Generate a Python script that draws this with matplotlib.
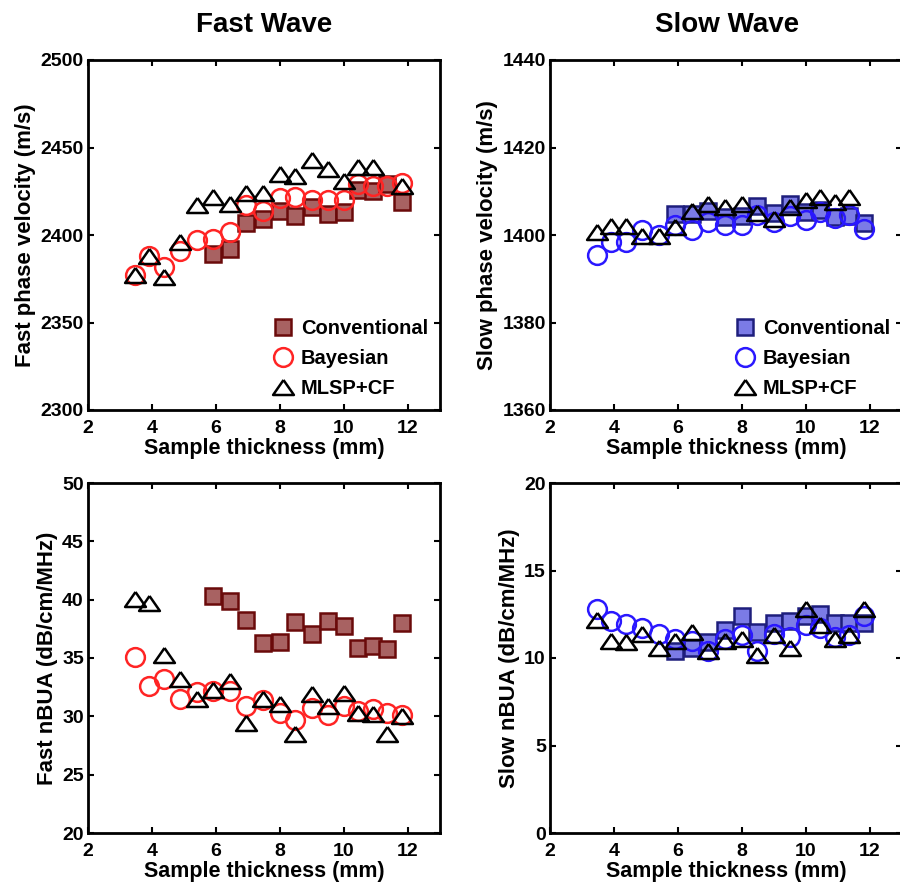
import numpy as np
import matplotlib
matplotlib.use('Agg')
import matplotlib.pyplot as plt

plt.rcParams['font.family'] = ['Liberation Sans', 'DejaVu Sans']
plt.rcParams['font.weight'] = 'bold'

# sample thickness (mm)
thick = [3.47, 3.92, 4.39, 4.88, 5.4, 5.92, 6.43, 6.94, 7.47, 7.99, 8.46,
         9.0, 9.5, 10.0, 10.43, 10.92, 11.35, 11.8]
thick_conv = thick[5:]

nan = np.nan

# fast phase velocity (m/s)
fast_vel_conv = [2389, 2392, 2407, 2409, 2414, 2411, 2416, 2412, 2413, 2426, 2425, 2429, 2419]
fast_vel_bayes = [2377, 2388, 2382, 2391, 2397, 2398, 2402, 2417, 2414, 2421, 2422, 2420,
                  2420, 2420, 2429, 2428, 2428, 2430]
fast_vel_mlsp = [2377, 2388, 2376, 2396, 2417, 2422, 2418, 2424, 2424, 2435, 2434, 2443,
                 2438, 2431, 2439, 2439, nan, 2428]

# slow phase velocity (m/s)
slow_vel_conv = [1404.8, 1404.8, 1405.6, 1404.2, 1404.4, 1406.7, 1405.0, 1407.1, 1405.2,
                 1405.7, 1404.2, 1404.4, 1402.8]
slow_vel_bayes = [1395.4, 1398.5, 1398.5, 1401.1, 1400.0, 1402.3, 1401.1, 1403.0, 1402.3,
                  1402.3, 1404.6, 1403.0, 1404.4, 1403.4, 1405.2, 1403.8, 1404.6, 1401.4]
slow_vel_mlsp = [1400.6, 1402.0, 1402.0, 1399.8, 1399.8, 1401.9, 1405.5, 1407.0, 1406.5,
                 1407.2, 1405.0, 1403.6, 1406.5, 1408.0, 1408.8, 1407.6, 1408.8, nan]

# fast nBUA (dB/cm/MHz)
fast_bua_conv = [40.3, 39.9, 38.3, 36.3, 36.4, 38.1, 37.1, 38.2, 37.7, 35.9, 36.0, 35.8, 38.0]
fast_bua_bayes = [35.1, 32.6, 33.2, 31.5, 32.1, 32.2, 32.2, 30.9, 31.4, 30.3, 29.7, 30.7,
                  30.1, 30.9, 30.5, 30.6, 30.3, 30.1]
fast_bua_mlsp = [40.1, 39.7, 35.3, 33.2, 31.5, 32.3, 33.0, 29.4, 31.5, 31.1, 28.5, 31.9,
                 30.9, 32.0, 30.3, 30.2, 28.5, 30.0]

# slow nBUA (dB/cm/MHz)
slow_bua_conv = [10.4, 10.6, 10.9, 11.6, 12.4, 11.5, 12.0, 12.1, 12.4, 12.5, 12.0, 12.0, 12.0]
slow_bua_bayes = [12.8, 12.1, 11.95, 11.7, 11.4, 11.1, 11.0, 10.4, 11.1, 11.3, 10.4, 11.4,
                  11.2, 11.9, 11.7, 11.2, 11.3, 12.4]
slow_bua_mlsp = [12.2, 11.0, 10.9, 11.4, 10.6, 11.0, 11.5, 10.4, 11.0, 11.1, 10.15, 11.3,
                 10.6, 12.8, 11.9, 11.1, 11.3, 12.8]

fig = plt.figure(figsize=(9, 8.86), dpi=100)

W, H = 900.0, 886.0
def box(x0, y0, x1, y1):
    return [x0 / W, 1 - y1 / H, (x1 - x0) / W, (y1 - y0) / H]

ax_fv = fig.add_axes(box(88, 60, 440, 410))
ax_sv = fig.add_axes(box(550, 60, 902, 410))
ax_fb = fig.add_axes(box(88, 483, 440, 833))
ax_sb = fig.add_axes(box(550, 483, 902, 833))

# wide matlab-like triangle
tri_path = [(0, 0.72), (-1, -0.72), (1, -0.72), (0, 0.72)]

fast_sq = dict(marker='s', ls='none', ms=11.5, mfc='#a86262', mec='#6a0a0a', mew=1.8)
fast_ci = dict(marker='o', ls='none', ms=13.5, mfc='none', mec='#ff2424', mew=1.8)
slow_sq = dict(marker='s', ls='none', ms=11.5, mfc='#7b7be6', mec='#1e1e7c', mew=1.8)
slow_ci = dict(marker='o', ls='none', ms=13.5, mfc='none', mec='#2a18ff', mew=1.8)
tri = dict(marker=tri_path, ls='none', ms=15, mfc='none', mec='black', mew=1.8)

def draw(ax, conv, bayes, mlsp, sq, ci, ylim, yticks, ylabel, legend):
    ax.plot(thick_conv, conv, label='Conventional', **sq)
    ax.plot(thick, bayes, label='Bayesian', **ci)
    ax.plot(thick, mlsp, label='MLSP+CF', **tri)
    ax.set_xlim(2, 13)
    ax.set_ylim(*ylim)
    ax.set_xticks([2, 4, 6, 8, 10, 12])
    ax.set_yticks(yticks)
    ax.tick_params(direction='in', top=True, right=True, length=4, width=1.5,
                   labelsize=14)
    ax.tick_params(axis='x', pad=7)
    ax.tick_params(axis='y', pad=3)
    for s in ax.spines.values():
        s.set_linewidth(2)
    ax.set_xlabel('Sample thickness (mm)', fontsize=15.5, fontweight='bold', labelpad=1)
    ax.set_ylabel(ylabel, fontsize=16, fontweight='bold', labelpad=3)
    if legend:
        ax.legend(loc='lower right', frameon=False, handletextpad=0.3,
                  borderaxespad=0.2, labelspacing=0.55, handlelength=1.2,
                  prop={'weight': 'bold', 'size': 14.5})

draw(ax_fv, fast_vel_conv, fast_vel_bayes, fast_vel_mlsp, fast_sq, fast_ci,
     (2300, 2500), [2300, 2350, 2400, 2450, 2500], 'Fast phase velocity (m/s)', True)
draw(ax_sv, slow_vel_conv, slow_vel_bayes, slow_vel_mlsp, slow_sq, slow_ci,
     (1360, 1440), [1360, 1380, 1400, 1420, 1440], 'Slow phase velocity (m/s)', True)
draw(ax_fb, fast_bua_conv, fast_bua_bayes, fast_bua_mlsp, fast_sq, fast_ci,
     (20, 50), [20, 25, 30, 35, 40, 45, 50], 'Fast nBUA (dB/cm/MHz)', False)
draw(ax_sb, slow_bua_conv, slow_bua_bayes, slow_bua_mlsp, slow_sq, slow_ci,
     (0, 20), [0, 5, 10, 15, 20], 'Slow nBUA (dB/cm/MHz)', False)

ax_fv.set_title('Fast Wave', fontsize=20, fontweight='bold', pad=20)
ax_sv.set_title('Slow Wave', fontsize=20, fontweight='bold', pad=20, x=(727 - 550) / 352.0)

fig.savefig('out.png', dpi=100)
